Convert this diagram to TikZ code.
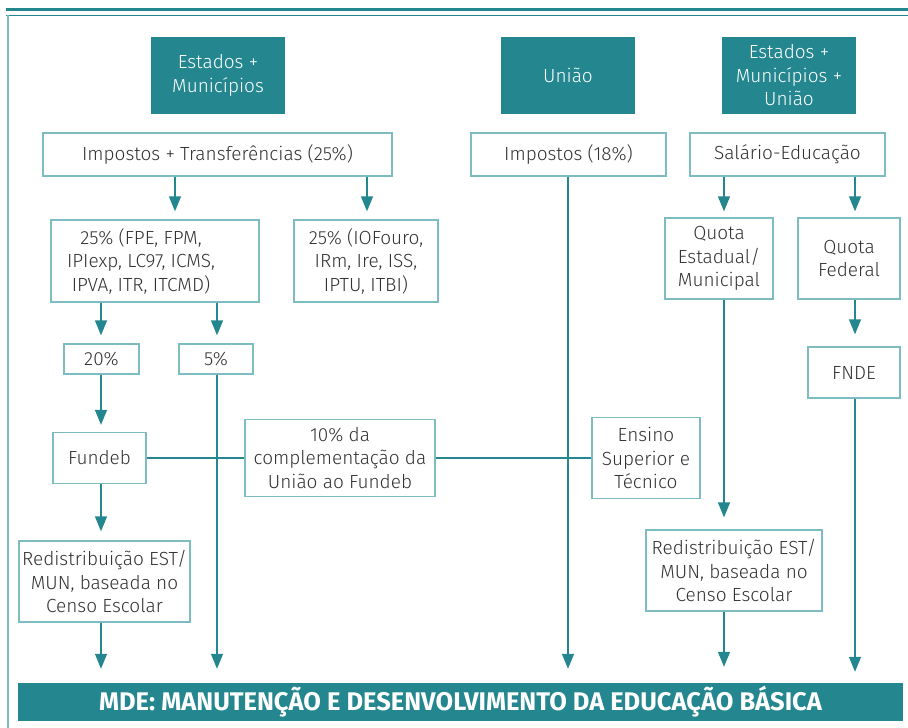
\documentclass[tikz,border=0pt]{standalone}
\usepackage{fontspec}
\setmainfont{Fira Sans Light}
\newfontfamily\barfont{Fira Sans}
\usetikzlibrary{arrows.meta}
\definecolor{teal1}{HTML}{24878F}
\definecolor{teal2}{HTML}{7DBCC1}
\definecolor{txt}{HTML}{333333}
\tikzset{
  hdr/.style={fill=teal1,draw=none,text=white,align=center,inner sep=0pt,
    minimum width=134pt,minimum height=77pt,font=\fontsize{19}{23.5}\selectfont},
  bx/.style={draw=teal2,line width=1.3pt,fill=white,text=txt,align=center,inner sep=0pt,
    font=\fontsize{19}{23.5}\selectfont},
  lbl/.style={text=txt,align=center,inner sep=0pt,font=\fontsize{19}{23.5}\selectfont},
  arr/.style={draw=teal1,line width=1.4pt,-{Triangle[width=12pt,length=15pt]}},
  ln/.style={draw=teal1,line width=1.4pt}
}
\begin{document}
\begin{tikzpicture}[x=1pt,y=-1pt]
\useasboundingbox (0,0) rectangle (908,728);
% frame
\draw[teal1,line width=3pt] (6,9.5) -- (908,9.5);
\draw[teal1,line width=1.5pt] (6,15.5) -- (908,15.5);
\draw[teal2,line width=2pt] (7.5,15) -- (7.5,728);
% column coordinates
\coordinate (cA) at (101,0);
\coordinate (cB) at (175,0);
\coordinate (cC) at (217,0);
\coordinate (cD) at (367,0);
\coordinate (cE) at (568,0);
\coordinate (cF) at (724,0);
\coordinate (cG) at (855,0);
% headers
\node[hdr] (h1) at (218,75.5) {Estados +\\Municípios};
\node[hdr] (h2) at (568,75.5) {União};
\node[hdr] (h3) at (789,75.5) {Estados +\\Municípios +\\União};
% boxes
\node[bx,minimum width=349pt,minimum height=43pt] (it) at (217.5,154.5) {Impostos + Transferências (25\%)};
\node[bx,minimum width=195pt,minimum height=43pt] (i18) at (568.5,154.5) {Impostos (18\%)};
\node[bx,minimum width=195pt,minimum height=43pt] (se) at (787.5,154.5) {Salário-Educação};
\node[bx,minimum width=208pt,minimum height=82pt] (b25a) at (155,261) {};
\node[lbl] (t25a) at (141,261) {25\% (FPE, FPM,\\IPIexp, LC97, ICMS,\\IPVA, ITR, ITCMD)};
\node[bx,minimum width=144pt,minimum height=82pt] (b25b) at (366,261) {25\% (IOFouro,\\IRm, Ire, ISS,\\IPTU, ITBI)};
\node[bx,minimum width=108pt,minimum height=81pt] (qe) at (719,258.5) {Quota\\Estadual/\\Municipal};
\node[bx,minimum width=102pt,minimum height=81pt] (qf) at (849,258.5) {Quota\\Federal};
\node[bx,minimum width=75pt,minimum height=30pt] (p20) at (101.5,359) {20\%};
\node[bx,minimum width=74pt,minimum height=30pt] (p5) at (216,359) {5\%};
\node[bx,minimum width=92pt,minimum height=51pt] (fnde) at (854,372.5) {FNDE};
\node[bx,minimum width=93pt,minimum height=51pt] (fundeb) at (99.5,458) {Fundeb};
\node[bx,minimum width=190pt,minimum height=77pt] (c10) at (340,458) {10\% da\\complementação da\\União ao Fundeb};
\node[bx,minimum width=108pt,minimum height=81pt] (ens) at (646,458) {Ensino\\Superior e\\Técnico};
\node[bx,minimum width=171pt,minimum height=81pt] (rl) at (104.5,581.5) {Redistribuição EST/\\MUN, baseada no\\Censo Escolar};
\node[bx,minimum width=176pt,minimum height=81pt] (rr) at (734,570.5) {Redistribuição EST/\\MUN, baseada no\\Censo Escolar};
\node[fill=teal1,minimum width=885pt,minimum height=38pt,inner sep=0pt,text=white,
  font=\barfont\fontsize{25.5}{28}\selectfont\bfseries] (bar) at (460.5,702) {MDE: MANUTENÇÃO E DESENVOLVIMENTO DA EDUCAÇÃO BÁSICA};
% connectors
\draw[arr,shorten >=8pt] (it.south -| cB) -- (b25a.north -| cB);
\draw[arr,shorten >=8pt] (it.south -| cD) -- (b25b.north -| cD);
\draw[arr,shorten >=8pt] (b25a.south -| cA) -- (p20.north -| cA);
\draw[arr,shorten >=8pt] (b25a.south -| cC) -- (p5.north -| cC);
\draw[arr,shorten >=7pt] (p20.south -| cA) -- (fundeb.north -| cA);
\draw[arr,shorten >=9pt] (fundeb.south -| cA) -- (rl.north -| cA);
\draw[arr,shorten >=14pt] (rl.south -| cA) -- (bar.north -| cA);
\draw[arr,shorten >=14pt] (p5.south -| cC) -- (bar.north -| cC);
\draw[arr,shorten >=14pt] (i18.south -| cE) -- (bar.north -| cE);
\draw[arr,shorten >=6pt] (se.south -| cF) -- (qe.north -| cF);
\draw[arr,shorten >=6pt] (se.south -| cG) -- (qf.north -| cG);
\draw[arr,shorten >=12pt] (qe.south -| cF) -- (rr.north -| cF);
\draw[arr,shorten >=12pt] (qf.south -| cG) -- (fnde.north -| cG);
\draw[arr,shorten >=16pt] (rr.south -| cF) -- (bar.north -| cF);
\draw[arr,shorten >=11pt] (fnde.south -| cG) -- (bar.north -| cG);
\draw[ln] (fundeb.east) -- (c10.west);
\draw[ln] (c10.east) -- (ens.west);
\end{tikzpicture}
\end{document}
